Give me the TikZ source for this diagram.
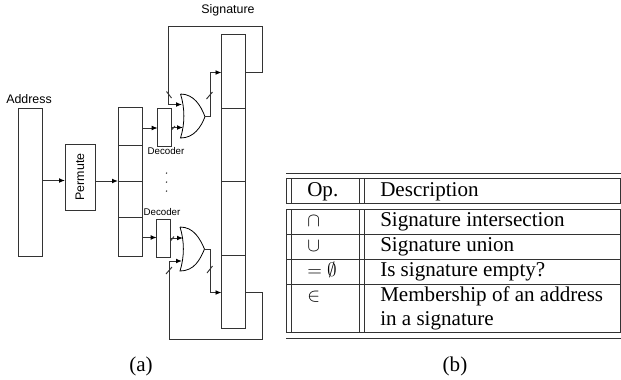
\documentclass[tikz,border=0pt]{standalone}
\usepackage{fontspec}
\usetikzlibrary{arrows.meta}
\setmainfont{Liberation Serif}
\newfontfamily\labelfont{Liberation Sans}
\newcommand{\sigfont}{\labelfont\fontsize{9.3pt}{11pt}\selectfont}
\newcommand{\decfont}{\labelfont\fontsize{7.3pt}{9pt}\selectfont}
\newcommand{\tabfont}{\fontsize{15.8pt}{18pt}\selectfont}
\tikzset{
	wire/.style={black!80, line width=0.7pt},
	arrowwire/.style={wire, -{Latex[length=4.5pt, width=3.6pt, black]}},
	cellbox/.style={draw=black!80, line width=0.7pt, inner sep=0pt, outer sep=0pt, minimum width=18pt},
	rule/.style={black!80, line width=0.75pt},
	celltext/.style={font=\tabfont, anchor=base west, inner sep=0pt},
}
\begin{document}
\begin{tikzpicture}[x=0.75pt, y=-0.75pt]
	\useasboundingbox (0,0) rectangle (621,379);
	% Adresse und Permute
	\node[cellbox, minimum height=111pt] (addr) at (30,182) {};
	\node[font=\sigfont] (addrlabel) at (29,99) {Address};
	\node[cellbox, minimum width=22.5pt, minimum height=49.5pt] (permute) at (80,177) {};
	\node[font=\sigfont, rotate=90] (permutelabel) at (80,177) {Permute};
	% Register
	\foreach \n/\t/\b in {1/107/145.5, 2/145.5/181, 3/181/217, 4/217/256} {
		\node[cellbox, minimum height={(\b-\t)*0.75pt}] (perm\n) at (130,{(\t+\b)/2}) {};
	}
	\foreach \n/\t/\b in {1/34.5/108.5, 2/108.5/181, 3/181/255.5, 4/255.5/328.5} {
		\node[cellbox, minimum height={(\b-\t)*0.75pt}] (sig\n) at (233.5,{(\t+\b)/2}) {};
	}
	\node[font=\sigfont] (siglabel) at (228,10) {Signature};
	% Decoder
	\node[cellbox, minimum width=10pt, minimum height=28.5pt] (dectop) at (164.3,127) {};
	\node[font=\decfont] (dectoplabel) at (166,151) {Decoder};
	\node[cellbox, minimum width=10pt, minimum height=28.5pt] (decbot) at (163.3,238) {};
	\node[font=\decfont] (decbotlabel) at (162,212.5) {Decoder};
	\foreach \n/\y in {1/173, 2/182, 3/191} {
		\node[circle, fill=black!80, inner sep=0.4pt] (dot\n) at (166.5,\y) {};
	}
	% Gatter
	\draw[line width=0.6pt] (180.5,94) .. controls (194,94) and (201,106) .. (205,116.7)
		.. controls (201,127) and (194,138) .. (180.5,138)
		.. controls (185,124) and (185,108) .. (180.5,94);
	\draw[line width=0.6pt] (180,227) .. controls (194,227) and (200,239) .. (204.5,249)
		.. controls (200,260) and (194,271) .. (180,271)
		.. controls (184.5,257) and (184.5,241) .. (180,227);
	\coordinate (gtop) at (205,116.7);
	\coordinate (gbot) at (204.5,249);
	\coordinate (itop) at (182,104.5);
	\coordinate (jtop) at (183,127.5);
	\coordinate (ibot) at (183,238);
	\coordinate (jbot) at (182,261);
	% Verbindungen
	\draw[arrowwire] (addr.east |- 0,180.5) -- (permute.west |- 0,180.5);
	\draw[arrowwire] (permute.east |- 0,181) -- (perm2.south west);
	\draw[arrowwire] (perm1.south east |- 0,128) -- (dectop.west |- 0,128);
	\draw[arrowwire] (perm4.east |- 0,237.5) -- (decbot.west |- 0,237.5);
	\draw[arrowwire] (dectop.east |- jtop) -- (jtop);
	\draw[arrowwire] (decbot.east |- ibot) -- (ibot);
	\draw[arrowwire] (gtop) -- (210,116.7) -- (210,72.5) -- (sig1.west |- 0,72.5);
	\draw[arrowwire] (gbot) -- (210,249) -- (210,292.5) -- (sig4.west |- 0,292.5);
	\draw[arrowwire] (sig1.east |- 0,72.5) -- (262,72.5) -- (262,26) -- (168.5,26) -- (168.5,104.5) -- (itop);
	\draw[arrowwire] (sig4.east |- 0,292.5) -- (262,292.5) -- (262,339.5) -- (169,339.5) -- (169,261) -- (jbot);
	% Striche
	\draw[wire] (166.5,91.5) -- (171.5,98);
	\draw[wire] (206.5,99) -- (212.5,92);
	\draw[wire] (166,274) -- (172,267);
	\draw[wire] (207,273) -- (212.5,266);
	\draw[wire] (172,129.5) -- (175,126);
	\draw[wire] (170.5,241) -- (174,236.5);
	% Tabelle
	\draw[rule] (286,173.5) -- (621,173.5);
	\draw[rule] (286,338) -- (621,338);
	\foreach \y in {178,203,209,234,259,284,332.7} {
		\draw[rule] (286,\y) -- (621,\y);
	}
	\foreach \x in {286,291.5,359,364,620.5} {
		\draw[rule] (\x,178) -- (\x,203);
		\draw[rule] (\x,209) -- (\x,332.7);
	}
	\node[celltext] (ophead) at (307,196) {Op.};
	\node[celltext] (deschead) at (380,196) {Description};
	\node[celltext] (opcap) at (307,226) {$\cap$};
	\node[celltext] (opcup) at (307,251) {$\cup$};
	\node[celltext] (opempty) at (307,276) {$=\emptyset$};
	\node[celltext] (opin) at (307,301.5) {$\in$};
	\node[celltext] (desccap) at (380,226) {Signature intersection};
	\node[celltext] (desccup) at (380,251) {Signature union};
	\node[celltext] (descempty) at (380,276) {Is signature empty?};
	\node[celltext] (descin) at (380,301.5) {Membership of an address};
	\node[celltext] (descin2) at (380,325) {in a signature};
	% Untertitel
	\node[font=\tabfont] (capa) at (141,366) {(a)};
	\node[font=\tabfont] (capb) at (455,366) {(b)};
\end{tikzpicture}
\end{document}
